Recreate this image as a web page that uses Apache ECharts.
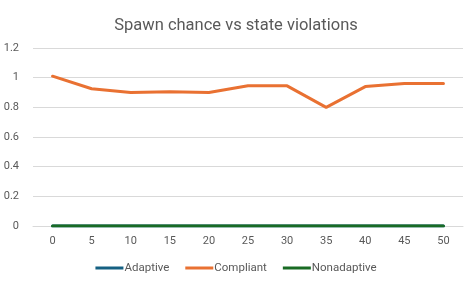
<!DOCTYPE html>
<html><head><meta charset="utf-8">
<script src="https://cdn.jsdelivr.net/npm/echarts@6/dist/echarts.min.js"></script>
<style>html,body{margin:0;padding:0;background:#fff}#c{width:472px;height:283px}</style>
</head><body><div id="c"></div>
<script>
const categories = ['0','5','10','15','20','25','30','35','40','45','50'];
const adaptive = [0,0,0,0,0,0,0,0,0,0,0];
const compliant = [1.01,0.925,0.9,0.905,0.9,0.945,0.945,0.8,0.94,0.96,0.96];
const nonadaptive = [0,0,0,0,0,0,0,0,0,0,0];
const yTicks = [0,0.2,0.4,0.6,0.8,1,1.2];

const chart = echarts.init(document.getElementById('c'), null, {renderer:'canvas'});
const font = 'Roboto, "Liberation Sans", sans-serif';
function mk(name, data, color){
  return {name, type:'line', data, symbol:'none', smooth:false,
    lineStyle:{color, width:3, cap:'round', join:'round'}, itemStyle:{color}};
}
chart.setOption({
  animation:false,
  title:{text:'Spawn chance vs state violations', left:'center', top:12,
    textStyle:{color:'#595959', fontSize:16.5, fontWeight:'normal', fontFamily:font}},
  grid:{left:33, right:9, top:48, bottom:57, containLabel:false},
  legend:{bottom:4, left:'center', itemWidth:28, itemHeight:3, itemGap:16,
    icon:'rect',
    textStyle:{color:'#595959', fontSize:11.5, fontFamily:font, padding:[0,0,0,-4]},
    data:['Adaptive','Compliant','Nonadaptive']},
  xAxis:{type:'category', data:categories, boundaryGap:true,
    axisLine:{lineStyle:{color:'#d9d9d9'}}, axisTick:{show:false},
    axisLabel:{color:'#595959', fontSize:11, fontFamily:font, margin:10}},
  yAxis:{type:'value', min:0, max:1.2, interval:0.2,
    axisLine:{show:false}, axisTick:{show:false},
    splitLine:{lineStyle:{color:'#d9d9d9', width:1}},
    axisLabel:{color:'#595959', fontSize:11, fontFamily:font, margin:14,
      formatter:v=>{const r=Math.round(v*10)/10; return yTicks.includes(r)? String(r):'';}}},
  series:[mk('Adaptive',adaptive,'#156082'), mk('Compliant',compliant,'#E97132'), mk('Nonadaptive',nonadaptive,'#196B24')]
});
</script></body></html>
